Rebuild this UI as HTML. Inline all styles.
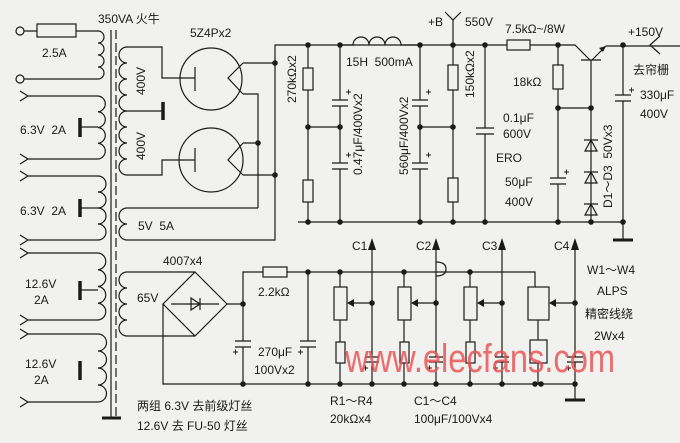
<!DOCTYPE html>
<html><head><meta charset="utf-8"><style>
html,body{margin:0;padding:0;background:#f1f1ef;}
svg{display:block}
text{font-family:"Liberation Sans","Noto Sans CJK SC",sans-serif;fill:#1a1a1a;font-size:12px}
</style></head><body>
<svg width="680" height="443" viewBox="0 0 680 443" xmlns="http://www.w3.org/2000/svg">
<rect width="680" height="443" fill="#f1f1ef"/>
<g stroke="#1a1a1a" stroke-width="1.2" fill="none">
<circle cx="20" cy="31" r="4"/><circle cx="20" cy="79" r="4"/>
<path d="M24 31H37M76 31H98M24 79H98"/>
<rect x="37" y="24" width="39" height="13"/>
<path d="M98 31a6 6 0 0 1 0 12a6 6 0 0 1 0 12a6 6 0 0 1 0 12a6 6 0 0 1 0 12"/>
<path d="M111 30V418"/><path d="M116 30V418" stroke-dasharray="9 4"/>
<path d="M102 418H121" stroke-width="3"/>
<path d="M98 96a7.9 7.9 0 0 1 0 15.75a7.9 7.9 0 0 1 0 15.75a7.9 7.9 0 0 1 0 15.75a7.9 7.9 0 0 1 0 15.75M98 96H28M98 159H28M28 96l-8-5M28 96l-8 5M28 159l-8-5M28 159l-8 5M80 127H98"/>
<path d="M98 176a8 8 0 0 1 0 16a8 8 0 0 1 0 16a8 8 0 0 1 0 16a8 8 0 0 1 0 16M98 176H28M98 240H28M28 176l-8-5M28 176l-8 5M28 240l-8-5M28 240l-8 5M80 208H98"/>
<path d="M98 253a8.4 8.4 0 0 1 0 16.75a8.4 8.4 0 0 1 0 16.75a8.4 8.4 0 0 1 0 16.75a8.4 8.4 0 0 1 0 16.75M98 253H28M98 320H28M28 253l-8-5M28 253l-8 5M28 320l-8-5M28 320l-8 5M80 290H98"/>
<path d="M98 334a8.5 8.5 0 0 1 0 17a8.5 8.5 0 0 1 0 17a8.5 8.5 0 0 1 0 17a8.5 8.5 0 0 1 0 17M98 334H28M98 402H28M28 334l-8-5M28 334l-8 5M28 402l-8-5M28 402l-8 5"/>
<path d="M80 118V137M80 199V217M80 281V300M80 361V380" stroke-width="3.5"/>
<path d="M127 47a8 8 0 0 0 0 16a8 8 0 0 0 0 16a8 8 0 0 0 0 16a8 8 0 0 0 0 16a8 8 0 0 0 0 16a8 8 0 0 0 0 16a8 8 0 0 0 0 16a8 8 0 0 0 0 16"/>
<path d="M127 47H162V78H195M127 175H162V160H195M127 111H163"/>
<path d="M163 102V120" stroke-width="3.5"/>
<circle cx="211" cy="79" r="31"/><circle cx="211" cy="160" r="32"/>
<path d="M195 67V91M195 148V172"/>
<path d="M243 63L228 78L243 94M243 143L228 160L243 175"/>
<path d="M243 63H275M243 94H258V208M243 143H258M243 175H275"/>
<path d="M127 208a8 8 0 0 0 0 16a8 8 0 0 0 0 16"/>
<path d="M127 208H258M127 240H275V45H453V20M445 12L453 20L461 12"/>
<path d="M308 45V68M308 90V180M308 202V222M298 222H623M308 127H340"/>
<rect x="303" y="68" width="10" height="22"/><rect x="303" y="180" width="10" height="22"/>
<path d="M340 45V100M340 106V163M340 169V222M332 100H348M332 106H348M332 163H348M332 169H348"/>
<path d="M420 45V100M420 106V163M420 169V222M412 100H428M412 106H428M412 163H428M412 169H428M420 127H453"/>
<path d="M453 45V65M453 90V178M453 202V222"/>
<rect x="448" y="65" width="10" height="25"/><rect x="448" y="178" width="10" height="24"/>
<path d="M485 45V128M485 134V222M476 128H494M476 134H494"/>
<path d="M453 45H507M530 45H575L590 60M581 60H601M592 60L606 46M606 46H680M591 60V222"/>
<rect x="507" y="40" width="23" height="10"/>
<path d="M558 45V65M558 89V178M558 184V222M550 178H566M550 184H566M558 108H591"/>
<rect x="553" y="65" width="10" height="24"/>
<path d="M623 45V95M623 101V222M615 95H631M615 101H631M623 222V240"/>
<path d="M613 240H633" stroke-width="3"/>
<path d="M660 36L650 45L660 54"/>
<path d="M584 140H598M591 140L585 151H597Z M584 172H598M591 172L585 183H597Z M584 204H598M591 204L585 215H597Z"/>
<path d="M127 272a8 8 0 0 0 0 16a8 8 0 0 0 0 16a8 8 0 0 0 0 16a8 8 0 0 0 0 16"/>
<path d="M127 272H195M127 336H195M195 272L227 304L195 336L163 304Z M163 304V384H575M171 304H219M200 298V310M200 304L191 298V310Z"/>
<path d="M227 304H243V341M243 347V384M243 304V272H263M287 272H535V287M235 341H251M235 347H251"/>
<rect x="263" y="267" width="24" height="10"/>
<path d="M308 272V341M308 347V384M300 341H316M300 347H316"/>
<path d="M340 272V287M340 320V342M340 363V384M404 272V287M404 320V342M404 363V384M470 272V287M470 320V342M470 363V384M538 320V340M538 363V384"/>
<rect x="334" y="287" width="13" height="33"/><rect x="336" y="342" width="9" height="21"/>
<rect x="398" y="287" width="13" height="33"/><rect x="400" y="342" width="9" height="21"/>
<rect x="464" y="287" width="13" height="33"/><rect x="466" y="342" width="9" height="21"/>
<rect x="528" y="287" width="21" height="33"/><rect x="530" y="340" width="17" height="23"/>
<path d="M372 248V357M372 362V384M436 248V357M436 362V384M502 248V357M502 362V384M575 248V357M575 362V400M365 357H379M365 362H379M429 357H443M429 362H443M495 357H509M495 362H509M567 357H583M567 362H583"/>
<path d="M372 303H352M436 303H416M502 303H482M575 303H555"/>
<path d="M565 400H585" stroke-width="3"/>
<path d="M436 262q10 0 10 7q0 7 -10 7" />
<path d="M340 45H353a8 8 0 0 1 16 0a8 8 0 0 1 16 0a8 8 0 0 1 16 0H420"/>
</g>
<g stroke="#1a1a1a" stroke-width="0.9">
<path d="M346 92h5M348.5 89.5v5M346 155h5M348.5 152.5v5M426 92h5M428.5 89.5v5M426 155h5M428.5 152.5v5M564 172h5M566.5 169.5v5M629 90h5M631.5 87.5v5M233 352h5M235.5 349.5v5M298 352h5M300.5 349.5v5M363 368h5M365.5 365.5v5M427 368h5M429.5 365.5v5M493 368h5M495.5 365.5v5M566 368h5M568.5 365.5v5"/>
</g>
<g fill="#1a1a1a">
<path d="M347 303l7-4v8zM411 303l7-4v8zM477 303l7-4v8zM549 303l7-4v8z"/>
<path d="M372 238l-4 12h8zM436 238l-4 12h8zM502 238l-4 12h8zM575 238l-4 12h8z"/>
<path d="M606 46l-7 2l4 4z"/>
<circle cx="275" cy="63" r="2.8"/><circle cx="258" cy="143" r="2.8"/><circle cx="275" cy="175" r="2.8"/>
<circle cx="308" cy="45" r="2.8"/><circle cx="340" cy="45" r="2.8"/><circle cx="420" cy="45" r="2.8"/><circle cx="453" cy="45" r="2.8"/><circle cx="485" cy="45" r="2.8"/><circle cx="558" cy="45" r="2.8"/><circle cx="623" cy="45" r="2.8"/>
<circle cx="308" cy="127" r="2.8"/><circle cx="340" cy="127" r="2.8"/><circle cx="420" cy="127" r="2.8"/><circle cx="453" cy="127" r="2.8"/>
<circle cx="558" cy="108" r="2.8"/><circle cx="591" cy="108" r="2.8"/>
<circle cx="308" cy="222" r="2.8"/><circle cx="340" cy="222" r="2.8"/><circle cx="420" cy="222" r="2.8"/><circle cx="453" cy="222" r="2.8"/><circle cx="485" cy="222" r="2.8"/><circle cx="558" cy="222" r="2.8"/><circle cx="591" cy="222" r="2.8"/><circle cx="623" cy="222" r="2.8"/>
<circle cx="243" cy="304" r="2.8"/><circle cx="308" cy="272" r="2.8"/><circle cx="340" cy="272" r="2.8"/><circle cx="404" cy="272" r="2.8"/><circle cx="470" cy="272" r="2.8"/>
<circle cx="372" cy="303" r="2.8"/><circle cx="436" cy="303" r="2.8"/><circle cx="502" cy="303" r="2.8"/><circle cx="575" cy="303" r="2.8"/>
<circle cx="243" cy="384" r="2.8"/><circle cx="308" cy="384" r="2.8"/><circle cx="340" cy="384" r="2.8"/><circle cx="372" cy="384" r="2.8"/><circle cx="404" cy="384" r="2.8"/><circle cx="436" cy="384" r="2.8"/><circle cx="470" cy="384" r="2.8"/><circle cx="502" cy="384" r="2.8"/><circle cx="535" cy="384" r="2.8"/><circle cx="541" cy="384" r="2.8"/><circle cx="575" cy="384" r="2.8"/>
</g>
<g>
<text x="98" y="23">350VA 火牛</text>
<text x="42" y="57">2.5A</text>
<text x="190" y="37">5Z4Px2</text>
<text x="20" y="134">6.3V&#160; 2A</text>
<text x="20" y="215">6.3V&#160; 2A</text>
<text x="25" y="288">12.6V</text><text x="34" y="304">2A</text>
<text x="25" y="368">12.6V</text><text x="34" y="384">2A</text>
<text transform="translate(145,95) rotate(-90)">400V</text>
<text transform="translate(145,160) rotate(-90)">400V</text>
<text x="138" y="230">5V&#160; 5A</text>
<text transform="translate(296,103) rotate(-90)">270kΩx2</text>
<text x="346" y="66">15H&#160; 500mA</text>
<text transform="translate(362,175) rotate(-90)">0.47μF/400Vx2</text>
<text transform="translate(408,175) rotate(-90)">560μF/400Vx2</text>
<text transform="translate(474,98) rotate(-90)">150kΩx2</text>
<text x="428" y="26">+B</text><text x="465" y="26">550V</text>
<text x="505" y="33">7.5kΩ~/8W</text>
<text x="513" y="86">18kΩ</text>
<text x="503" y="122">0.1μF</text><text x="503" y="138">600V</text>
<text x="496" y="162">ERO</text>
<text x="505" y="186">50μF</text><text x="505" y="206">400V</text>
<text transform="translate(612,208) rotate(-90)">D1～D3&#160; 50Vx3</text>
<text x="628" y="36">+150V</text>
<text x="633" y="74">去帘栅</text>
<text x="640" y="99">330μF</text><text x="640" y="118">400V</text>
<text x="163" y="265">4007x4</text>
<text x="137" y="302">65V</text>
<text x="258" y="296">2.2kΩ</text>
<text x="258" y="356">270μF</text><text x="254" y="374">100Vx2</text>
<text x="352" y="250">C1</text><text x="416" y="250">C2</text><text x="482" y="250">C3</text><text x="554" y="250">C4</text>
<text x="587" y="274">W1～W4</text>
<text x="597" y="295">ALPS</text>
<text x="585" y="318">精密线绕</text>
<text x="594" y="340">2Wx4</text>
<text x="330" y="405">R1～R4</text><text x="330" y="423">20kΩx4</text>
<text x="414" y="405">C1～C4</text><text x="414" y="423">100μF/100Vx4</text>
<text x="137" y="410">两组 6.3V 去前级灯丝</text>
<text x="137" y="430">12.6V 去 FU-50 灯丝</text>
<text x="345" y="372" textLength="270" lengthAdjust="spacingAndGlyphs" style="font-size:40px;fill:#e85656;opacity:0.85">www.elecfans.com</text>
</g>
</svg>
</body></html>
